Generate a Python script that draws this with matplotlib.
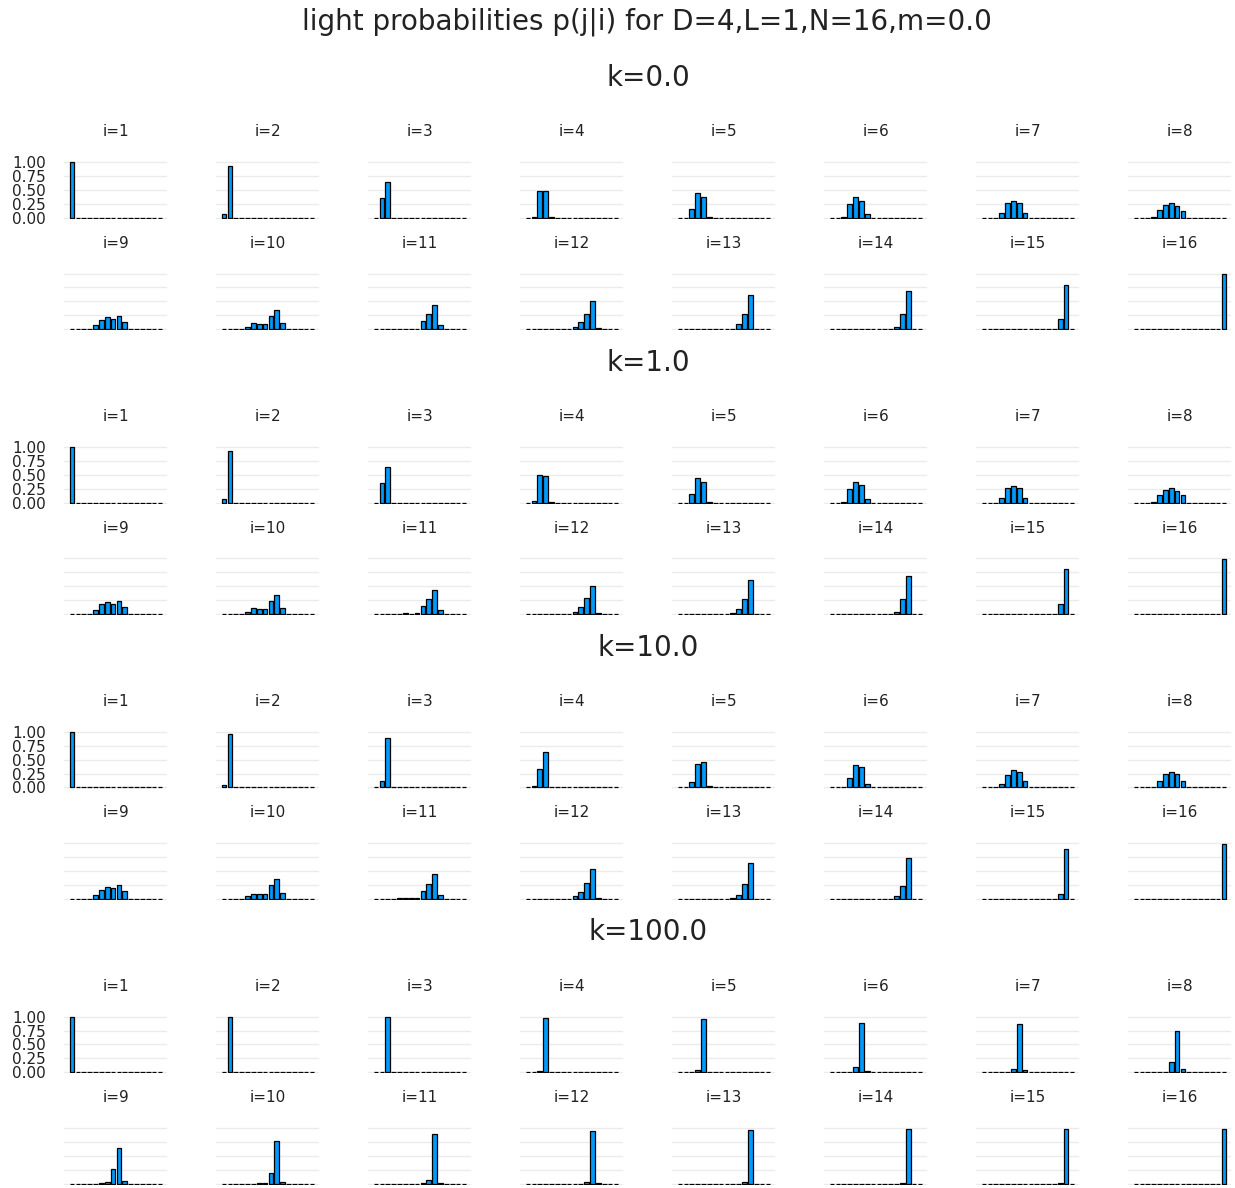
import matplotlib.pyplot as plt

# p(j|i), one row per i (1..16), 16 values per row (j = 1..16)
p_k0 = [
    [1.00, 0, 0, 0, 0, 0, 0, 0, 0, 0, 0, 0, 0, 0, 0, 0],
    [0.07, 0.93, 0, 0, 0, 0, 0, 0, 0, 0, 0, 0, 0, 0, 0, 0],
    [0, 0.36, 0.64, 0, 0, 0, 0, 0, 0, 0, 0, 0, 0, 0, 0, 0],
    [0, 0.02, 0.49, 0.48, 0.01, 0, 0, 0, 0, 0, 0, 0, 0, 0, 0, 0],
    [0, 0, 0.16, 0.45, 0.38, 0.01, 0, 0, 0, 0, 0, 0, 0, 0, 0, 0],
    [0, 0, 0.01, 0.24, 0.38, 0.31, 0.07, 0, 0, 0, 0, 0, 0, 0, 0, 0],
    [0, 0, 0, 0.09, 0.26, 0.30, 0.26, 0.09, 0, 0, 0, 0, 0, 0, 0, 0],
    [0, 0, 0, 0.01, 0.14, 0.235, 0.26, 0.21, 0.13, 0, 0, 0, 0, 0, 0, 0],
    [0, 0, 0, 0, 0.07, 0.17, 0.21, 0.175, 0.24, 0.13, 0, 0, 0, 0, 0, 0],
    [0, 0, 0, 0, 0.04, 0.11, 0.085, 0.085, 0.23, 0.34, 0.11, 0, 0, 0, 0, 0],
    [0, 0, 0, 0, 0.005, 0.01, 0.005, 0.01, 0.14, 0.27, 0.43, 0.07, 0, 0, 0, 0],
    [0, 0, 0, 0, 0, 0, 0, 0, 0.04, 0.125, 0.28, 0.51, 0.02, 0, 0, 0],
    [0, 0, 0, 0, 0, 0, 0, 0, 0, 0.01, 0.09, 0.27, 0.61, 0, 0, 0],
    [0, 0, 0, 0, 0, 0, 0, 0, 0, 0, 0, 0.04, 0.27, 0.68, 0, 0],
    [0, 0, 0, 0, 0, 0, 0, 0, 0, 0, 0, 0, 0, 0.185, 0.80, 0],
    [0, 0, 0, 0, 0, 0, 0, 0, 0, 0, 0, 0, 0, 0, 0, 0.99],
]

p_k1 = [
    [1.00, 0, 0, 0, 0, 0, 0, 0, 0, 0, 0, 0, 0, 0, 0, 0],
    [0.07, 0.93, 0, 0, 0, 0, 0, 0, 0, 0, 0, 0, 0, 0, 0, 0],
    [0, 0.36, 0.64, 0, 0, 0, 0, 0, 0, 0, 0, 0, 0, 0, 0, 0],
    [0, 0.02, 0.49, 0.48, 0.01, 0, 0, 0, 0, 0, 0, 0, 0, 0, 0, 0],
    [0, 0, 0.16, 0.45, 0.38, 0.01, 0, 0, 0, 0, 0, 0, 0, 0, 0, 0],
    [0, 0, 0.01, 0.24, 0.38, 0.31, 0.07, 0, 0, 0, 0, 0, 0, 0, 0, 0],
    [0, 0, 0, 0.09, 0.26, 0.30, 0.26, 0.09, 0, 0, 0, 0, 0, 0, 0, 0],
    [0, 0, 0, 0.01, 0.14, 0.235, 0.26, 0.21, 0.13, 0, 0, 0, 0, 0, 0, 0],
    [0, 0, 0, 0, 0.07, 0.17, 0.21, 0.175, 0.24, 0.13, 0, 0, 0, 0, 0, 0],
    [0, 0, 0, 0, 0.04, 0.11, 0.085, 0.085, 0.23, 0.34, 0.11, 0, 0, 0, 0, 0],
    [0, 0, 0, 0, 0.005, 0.01, 0.005, 0.01, 0.14, 0.27, 0.43, 0.07, 0, 0, 0, 0],
    [0, 0, 0, 0, 0, 0, 0, 0, 0.04, 0.125, 0.28, 0.51, 0.02, 0, 0, 0],
    [0, 0, 0, 0, 0, 0, 0, 0, 0, 0.01, 0.09, 0.27, 0.61, 0, 0, 0],
    [0, 0, 0, 0, 0, 0, 0, 0, 0, 0, 0, 0.04, 0.27, 0.68, 0, 0],
    [0, 0, 0, 0, 0, 0, 0, 0, 0, 0, 0, 0, 0, 0.185, 0.80, 0],
    [0, 0, 0, 0, 0, 0, 0, 0, 0, 0, 0, 0, 0, 0, 0, 0.99],
]

p_k10 = [
    [1.00, 0, 0, 0, 0, 0, 0, 0, 0, 0, 0, 0, 0, 0, 0, 0],
    [0.04, 0.96, 0, 0, 0, 0, 0, 0, 0, 0, 0, 0, 0, 0, 0, 0],
    [0, 0.11, 0.89, 0, 0, 0, 0, 0, 0, 0, 0, 0, 0, 0, 0, 0],
    [0, 0.02, 0.33, 0.64, 0.01, 0, 0, 0, 0, 0, 0, 0, 0, 0, 0, 0],
    [0, 0, 0.09, 0.43, 0.46, 0.02, 0, 0, 0, 0, 0, 0, 0, 0, 0, 0],
    [0, 0, 0.01, 0.17, 0.40, 0.36, 0.07, 0, 0, 0, 0, 0, 0, 0, 0, 0],
    [0, 0, 0, 0.07, 0.22, 0.32, 0.28, 0.11, 0, 0, 0, 0, 0, 0, 0, 0],
    [0, 0, 0, 0.01, 0.11, 0.24, 0.285, 0.24, 0.12, 0, 0, 0, 0, 0, 0, 0],
    [0, 0, 0, 0, 0.065, 0.15, 0.21, 0.19, 0.25, 0.135, 0, 0, 0, 0, 0, 0],
    [0, 0, 0, 0, 0.04, 0.09, 0.085, 0.085, 0.24, 0.355, 0.105, 0, 0, 0, 0, 0],
    [0, 0, 0, 0, 0.005, 0.01, 0.005, 0.01, 0.14, 0.27, 0.44, 0.07, 0, 0, 0, 0],
    [0, 0, 0, 0, 0, 0, 0, 0, 0.04, 0.12, 0.285, 0.53, 0.02, 0, 0, 0],
    [0, 0, 0, 0, 0, 0, 0, 0, 0, 0.01, 0.07, 0.26, 0.64, 0, 0, 0],
    [0, 0, 0, 0, 0, 0, 0, 0, 0, 0, 0, 0.04, 0.22, 0.74, 0, 0],
    [0, 0, 0, 0, 0, 0, 0, 0, 0, 0, 0, 0, 0, 0.09, 0.90, 0],
    [0, 0, 0, 0, 0, 0, 0, 0, 0, 0, 0, 0, 0, 0, 0, 0.99],
]

p_k100 = [
    [1.00, 0, 0, 0, 0, 0, 0, 0, 0, 0, 0, 0, 0, 0, 0, 0],
    [0.005, 0.995, 0, 0, 0, 0, 0, 0, 0, 0, 0, 0, 0, 0, 0, 0],
    [0, 0.01, 0.99, 0, 0, 0, 0, 0, 0, 0, 0, 0, 0, 0, 0, 0],
    [0, 0, 0.02, 0.98, 0, 0, 0, 0, 0, 0, 0, 0, 0, 0, 0, 0],
    [0, 0, 0, 0.04, 0.95, 0.01, 0, 0, 0, 0, 0, 0, 0, 0, 0, 0],
    [0, 0, 0, 0, 0.10, 0.88, 0.015, 0, 0, 0, 0, 0, 0, 0, 0, 0],
    [0, 0, 0, 0, 0, 0.065, 0.875, 0.04, 0, 0, 0, 0, 0, 0, 0, 0],
    [0, 0, 0, 0, 0, 0, 0.18, 0.74, 0.065, 0, 0, 0, 0, 0, 0, 0],
    [0, 0, 0, 0, 0, 0.01, 0.02, 0.27, 0.635, 0.05, 0, 0, 0, 0, 0, 0],
    [0, 0, 0, 0, 0, 0, 0.01, 0.01, 0.185, 0.76, 0.03, 0, 0, 0, 0, 0],
    [0, 0, 0, 0, 0, 0, 0, 0, 0.01, 0.06, 0.90, 0.01, 0, 0, 0, 0],
    [0, 0, 0, 0, 0, 0, 0, 0, 0, 0, 0.035, 0.94, 0.01, 0, 0, 0],
    [0, 0, 0, 0, 0, 0, 0, 0, 0, 0, 0, 0.02, 0.96, 0, 0, 0],
    [0, 0, 0, 0, 0, 0, 0, 0, 0, 0, 0, 0, 0.01, 0.985, 0, 0],
    [0, 0, 0, 0, 0, 0, 0, 0, 0, 0, 0, 0, 0, 0.01, 0.985, 0],
    [0, 0, 0, 0, 0, 0, 0, 0, 0, 0, 0, 0, 0, 0, 0, 0.99],
]

k_values = [0.0, 1.0, 10.0, 100.0]
j_values = list(range(1, 17))
y_ticks = [0.0, 0.25, 0.5, 0.75, 1.0]
y_ticklabels = ["0.00", "0.25", "0.50", "0.75", "1.00"]

all_probs = [p_k0, p_k1, p_k10, p_k100]

W, H = 1235, 1188
fig = plt.figure(figsize=(W / 100, H / 100), dpi=100)
plt.rcParams['font.family'] = 'DejaVu Sans'
txt_color = '#222222'

col_left0, col_step, ax_w = 64.3, 152.0, 103.0
grid1_top0, group_step, row_step = 162.3, 284.8, 111.3
unit_px = 55.5  # pixels for 1.0 on y
ymin, ymax = -0.02, 1.02

fig.text(647.4 / W, 1 - 30 / H, "light probabilities p(j|i) for D=4,L=1,N=16,m=0.0",
         ha='center', va='baseline', fontsize=20, color=txt_color)

for g, (k, probs) in enumerate(zip(k_values, all_probs)):
    fig.text(648 / W, 1 - (86 + group_step * g) / H, f"k={k}",
             ha='center', va='baseline', fontsize=20, color=txt_color)
    for r in range(2):
        for c in range(8):
            i = r * 8 + c + 1
            grid1 = grid1_top0 + group_step * g + row_step * r
            top = grid1 - (ymax - 1.0) * unit_px
            h = (ymax - ymin) * unit_px
            left = col_left0 + col_step * c
            ax = fig.add_axes([left / W, 1 - (top + h) / H, ax_w / W, h / H])
            ax.bar(j_values, probs[i - 1], width=0.8, color='#009AFA',
                   edgecolor='black', linewidth=0.9, zorder=3)
            ax.set_xlim(-0.32, 17.25)
            ax.set_ylim(ymin, ymax)
            ax.set_yticks(y_ticks)
            ax.set_xticks([])
            ax.yaxis.grid(True, color='black', alpha=0.08, linewidth=1.0, zorder=0)
            for s in ax.spines.values():
                s.set_visible(False)
            if i == 1:
                ax.set_yticklabels(y_ticklabels)
                ax.tick_params(axis='y', length=0, pad=13.4, labelsize=11,
                               labelcolor=txt_color)
            else:
                ax.tick_params(axis='y', length=0, labelleft=False)
            ax.set_title(f"i={i}", fontsize=11, pad=17.8, color=txt_color)

fig.savefig("out.png", dpi=100, facecolor='white')
